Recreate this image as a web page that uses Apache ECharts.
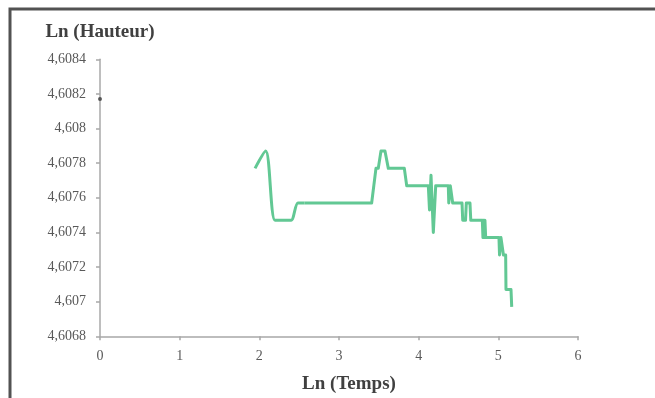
<!DOCTYPE html>
<html>
<head>
<meta charset="utf-8">
<script src="https://cdn.jsdelivr.net/npm/echarts@6/dist/echarts.min.js"></script>
<style>
html,body{margin:0;padding:0;background:#fff;}
#c{width:655px;height:398px;}
</style>
</head>
<body>
<div id="c"></div>
<script>
// Early (smoothed) part of the curve: Ln(Temps) and Ln(Hauteur)
const smoothX = [1.946, 2.079, 2.197, 2.303, 2.398, 2.485, 2.565];
const smoothY = [4.60777, 4.60787, 4.60747, 4.60747, 4.60747, 4.60757, 4.60757];

// Later (step-like) part of the curve
const stepX = [2.565, 3.41, 3.464, 3.493, 3.527, 3.577, 3.619, 3.82, 3.85,
  4.121, 4.136, 4.155, 4.184, 4.214, 4.372, 4.378, 4.391, 4.397, 4.414, 4.427,
  4.544, 4.553, 4.588, 4.598, 4.644, 4.654, 4.799, 4.807, 4.816, 4.825, 4.832,
  4.841, 5.008, 5.015, 5.027, 5.033, 5.058, 5.064, 5.092, 5.096, 5.159, 5.168];
const stepY = [4.60757, 4.60757, 4.60777, 4.60777, 4.60787, 4.60787, 4.60777, 4.60777, 4.60767,
  4.60767, 4.60753, 4.60773, 4.60740, 4.60767, 4.60767, 4.60757, 4.60757, 4.60767, 4.60767, 4.60757,
  4.60757, 4.60747, 4.60747, 4.60757, 4.60757, 4.60747, 4.60747, 4.60737, 4.60747, 4.60737, 4.60747,
  4.60737, 4.60737, 4.60727, 4.60727, 4.60737, 4.60737, 4.60727, 4.60727, 4.60707, 4.60707, 4.60697];

// Isolated point at Ln(Temps) = 0
const pointX = [0];
const pointY = [4.60817];

const xTicks = {min: 0, max: 6, interval: 1};
const yTicks = {min: 4.6068, max: 4.6084, interval: 0.0002};

const xTitle = 'Ln (Temps)';
const yTitle = 'Ln (Hauteur)';

const lineColor = '#62c894';
const font = '"Liberation Serif", "DejaVu Serif", serif';

const zip = (a, b) => a.map((v, i) => [v, b[i]]);

const chart = echarts.init(document.getElementById('c'), null, {renderer: 'canvas'});
chart.setOption({
  animation: false,
  backgroundColor: '#ffffff',
  graphic: [{
    type: 'rect',
    shape: {x: 10, y: 9, width: 800, height: 600},
    style: {fill: 'none', stroke: '#525252', lineWidth: 3},
    silent: true, z: -1
  }],
  grid: {left: 100, right: 77, top: 59.3, bottom: 61.7, containLabel: false, outerBoundsMode: 'none'},
  xAxis: {
    type: 'value',
    min: xTicks.min, max: xTicks.max, interval: xTicks.interval,
    name: xTitle,
    nameLocation: 'middle',
    nameGap: 38,
    nameTextStyle: {fontFamily: font, fontSize: 19, fontWeight: 'bold', color: '#404040', padding: [0, 0, 0, 20]},
    axisLine: {show: true, lineStyle: {color: '#a8a8a8', width: 1.5}},
    axisTick: {show: true, length: 4, lineStyle: {color: '#a8a8a8', width: 1.5}},
    axisLabel: {fontFamily: font, fontSize: 14, color: '#595959', margin: 13},
    splitLine: {show: false}
  },
  yAxis: {
    type: 'value',
    min: yTicks.min, max: yTicks.max, interval: yTicks.interval,
    name: yTitle,
    nameLocation: 'end',
    nameGap: 18,
    nameTextStyle: {fontFamily: font, fontSize: 19, fontWeight: 'bold', color: '#404040', align: 'center'},
    axisLine: {show: true, lineStyle: {color: '#a8a8a8', width: 1.5}},
    axisTick: {show: true, length: 4, lineStyle: {color: '#a8a8a8', width: 1.5}},
    axisLabel: {
      fontFamily: font, fontSize: 14, color: '#595959', margin: 14,
      formatter: v => String(Math.round(v * 10000) / 10000).replace('.', ',')
    },
    splitLine: {show: false}
  },
  series: [
    {
      type: 'line', data: zip(smoothX, smoothY), smooth: 0.3,
      showSymbol: false, symbol: 'none',
      lineStyle: {color: lineColor, width: 3}, clip: false
    },
    {
      type: 'line', data: zip(stepX, stepY), smooth: false,
      showSymbol: false, symbol: 'none',
      lineStyle: {color: lineColor, width: 3, join: 'round'}, clip: false
    },
    {
      type: 'scatter', data: zip(pointX, pointY),
      symbol: 'circle', symbolSize: 4,
      itemStyle: {color: '#3a3a3a'}
    }
  ]
});
</script>
</body>
</html>
